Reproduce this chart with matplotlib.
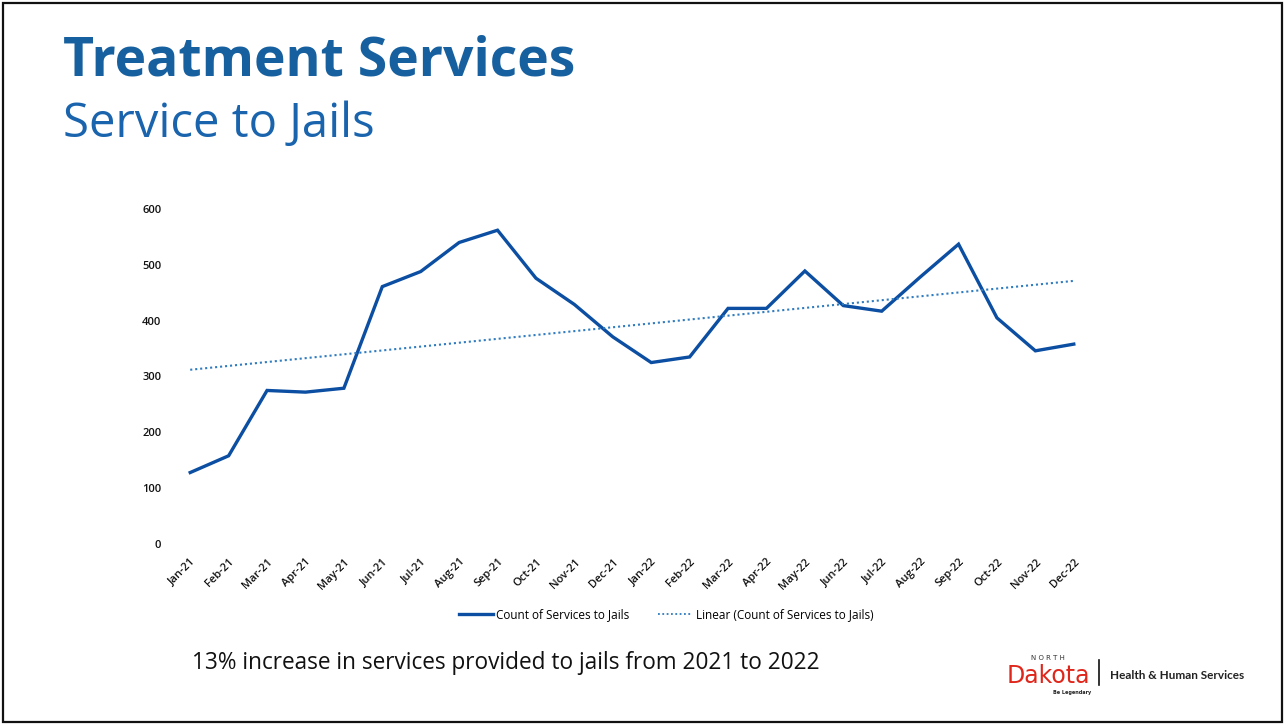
import matplotlib
matplotlib.use("Agg")
import matplotlib.pyplot as plt
import numpy as np
from matplotlib.lines import Line2D
from matplotlib.patches import Rectangle

months = ["Jan-21", "Feb-21", "Mar-21", "Apr-21", "May-21", "Jun-21", "Jul-21", "Aug-21",
          "Sep-21", "Oct-21", "Nov-21", "Dec-21", "Jan-22", "Feb-22", "Mar-22", "Apr-22",
          "May-22", "Jun-22", "Jul-22", "Aug-22", "Sep-22", "Oct-22", "Nov-22", "Dec-22"]
services = [128, 158, 275, 272, 279, 461, 488, 540, 562, 476, 429, 371,
            325, 335, 422, 422, 489, 427, 417, 478, 537, 405, 346, 358]
y_ticks = [0, 100, 200, 300, 400, 500, 600]

title = "Treatment Services"
subtitle = "Service to Jails"
footnote = "13% increase in services provided to jails from 2021 to 2022"
series_label = "Count of Services to Jails"
trend_label = "Linear (Count of Services to Jails)"

W, H = 1285, 727
fig = plt.figure(figsize=(W / 100, H / 100), dpi=100)
fig.patch.set_facecolor("white")

def fx(px):
    return px / W

def fy(py):
    return 1 - py / H

# slide border
fig.add_artist(Rectangle((fx(3), fy(722)), fx(1279), (719) / H, transform=fig.transFigure,
                         fill=False, edgecolor="#111111", linewidth=1.6))

# chart axes
left, right, top, bottom = 171, 1093, 209, 544
ax = fig.add_axes([fx(left), fy(bottom), (right - left) / W, (bottom - top) / H])
x = np.arange(len(months))
line_color = "#0b4ea2"
trend_color = "#2e7bbf"
ax.plot(x, services, color=line_color, linewidth=2.4, solid_joinstyle="miter")
coef = np.polyfit(x, services, 1)
trend = np.polyval(coef, x)
ax.plot(x, trend, color=trend_color, linewidth=1.5, linestyle=(0, (1, 1.4)))

ax.set_xlim(-0.5, len(months) - 0.5)
ax.set_ylim(0, 600)
ax.set_yticks(y_ticks)
ax.set_yticklabels([str(v) for v in y_ticks], fontsize=8, color="#111111",
                   fontfamily="Open Sans", fontweight="semibold")
ax.set_xticks(x)
ax.set_xticklabels(months, rotation=45, ha="right", rotation_mode="anchor",
                   fontsize=8, color="#111111", fontfamily="Open Sans", fontweight="semibold")
ax.tick_params(axis="both", length=0)
ax.tick_params(axis="y", pad=7)
ax.tick_params(axis="x", pad=9)
for s in ax.spines.values():
    s.set_visible(False)
ax.set_facecolor("none")

# legend
handles = [Line2D([0], [0], color=line_color, linewidth=2.4),
           Line2D([0], [0], color=trend_color, linewidth=1.3, linestyle=(0, (1, 1.4)))]
fig.legend(handles, [series_label, trend_label], loc="center", ncol=2,
           bbox_to_anchor=(fx(666), fy(615)), frameon=False,
           prop={"family": "Open Sans", "size": 8.5}, handlelength=2.9,
           handletextpad=0.3, columnspacing=2.4)

# titles
fig.text(fx(63), fy(75), title, fontsize=38.5, fontweight="bold", color="#17609f",
         fontfamily="Open Sans", ha="left", va="baseline")
fig.text(fx(63), fy(137), subtitle, fontsize=34, color="#1a64ae",
         fontfamily="Open Sans", ha="left", va="baseline")

# footnote
fig.text(fx(192), fy(669), footnote, fontsize=16.3, color="#111111",
         fontfamily="Open Sans", ha="left", va="baseline")

# logo
fig.text(fx(1048), fy(660), "N O R T H", fontsize=5, color="#333333",
         fontfamily="DejaVu Sans", ha="center", va="baseline")
fig.text(fx(1048), fy(683), "Dakota", fontsize=17, color="#e0261b",
         fontfamily="DejaVu Sans", ha="center", va="baseline")
fig.text(fx(1072), fy(694), "Be Legendary", fontsize=3.5, fontweight="bold",
         color="#222222", fontfamily="DejaVu Sans", ha="center", va="baseline")
fig.add_artist(Line2D([fx(1099), fx(1099)], [fy(660), fy(685)], transform=fig.transFigure,
                      color="#111111", linewidth=1.2))
fig.text(fx(1110), fy(679), "Health & Human Services", fontsize=8.5, fontweight="bold",
         color="#222222", fontfamily="Lato", ha="left", va="baseline")

fig.savefig("out.png", dpi=100, facecolor="white")
